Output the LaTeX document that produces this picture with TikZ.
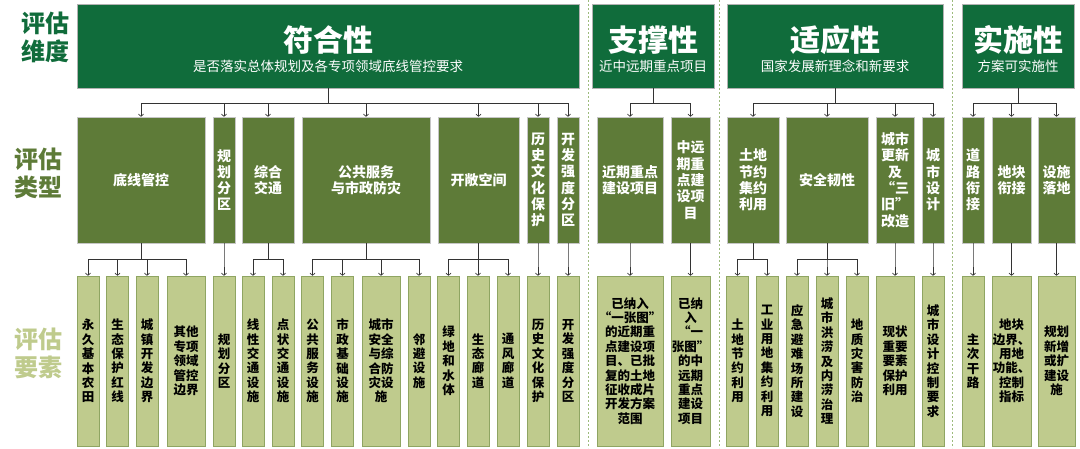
\documentclass[tikz,border=0pt]{standalone}
\usepackage{fontspec}
\setmainfont{Noto Sans CJK SC}
\usetikzlibrary{arrows.meta}
\definecolor{dimgreen}{HTML}{106C3B}
\definecolor{kindgreen}{HTML}{5E7B38}
\definecolor{itemgreen}{HTML}{BFCB8D}
\definecolor{itemedge}{HTML}{8FA562}
\definecolor{sepgreen}{HTML}{9DBB7C}
\begin{document}
\begin{tikzpicture}
      [
      x=1pt,y=-1pt,
      dimbox/.style={rectangle,draw=gray!60,fill=dimgreen,inner sep=0pt,minimum height=84pt},
      dimtitle/.style={text=white,inner sep=0pt,font=\fontsize{30}{32}\selectfont\bfseries},
      dimnote/.style={text=white,inner sep=0pt,font=\fontsize{13.5}{15}\selectfont},
      kindbox/.style={rectangle,draw=gray!45,fill=kindgreen,text=white,inner sep=0pt,minimum height=126pt,align=center,font=\fontsize{14}{16.3}\selectfont\bfseries},
      itembox/.style={rectangle,draw=itemedge,fill=itemgreen,text=black,inner sep=0pt,minimum height=170pt,align=center,font=\fontsize{12.5}{14.4}\selectfont\bfseries},
      rowlabel/.style={align=center,inner sep=0pt,font=\fontsize{24}{28}\selectfont\bfseries},
      link/.style={-{To[length=3pt,width=5.5pt]},draw=black!80,line width=0.7pt},
      sep/.style={sepgreen,line width=0.8pt,dash pattern=on 2pt off 2pt}
      ]
      \useasboundingbox (0,0) rectangle (1080,448);

      \draw [sep] (588,0) -- (588,448);
      \draw [sep] (719,0) -- (719,448);
      \draw [sep] (952,0) -- (952,448);

      \node (dimlab) at (45,37) [rowlabel,text=dimgreen] {评估\\维度};
      \node (kindlab) at (39,173) [rowlabel,text=kindgreen] {评估\\类型};
      \node (itemlab) at (39,353) [rowlabel,text=itemgreen] {评估\\要素};

      % evaluation dimensions
      \node (fh) at (328,46) [dimbox,minimum width=502pt] {};
      \node (fh-t) at (328,40) [dimtitle] {符合性};
      \node (fh-n) at (328,66) [dimnote] {是否落实总体规划及各专项领域底线管控要求};
      \node (zc) at (653,46) [dimbox,minimum width=122pt] {};
      \node (zc-t) at (653,40) [dimtitle] {支撑性};
      \node (zc-n) at (653,66) [dimnote] {近中远期重点项目};
      \node (sy) at (835,46) [dimbox,minimum width=216pt] {};
      \node (sy-t) at (835,40) [dimtitle] {适应性};
      \node (sy-n) at (835,66) [dimnote] {国家发展新理念和新要求};
      \node (ss) at (1018,46) [dimbox,minimum width=112pt] {};
      \node (ss-t) at (1018,40) [dimtitle] {实施性};
      \node (ss-n) at (1018,66) [dimnote] {方案可实施性};

      % evaluation types
      \node (dx) at (141,180) [kindbox,minimum width=128pt] {底线管控};
      \node (gh) at (224,180) [kindbox,minimum width=22pt] {规\\划\\分\\区};
      \node (zh) at (268,180) [kindbox,minimum width=52pt] {综合\\交通};
      \node (gg) at (366,180) [kindbox,minimum width=128pt] {公共服务\\与市政防灾};
      \node (kc) at (478.5,180) [kindbox,minimum width=81pt] {开敞空间};
      \node (ls) at (538,180) [kindbox,minimum width=22pt] {历\\史\\文\\化\\保\\护};
      \node (kf) at (568,180) [kindbox,minimum width=22pt] {开\\发\\强\\度\\分\\区};
      \node (jq) at (630,180) [kindbox,minimum width=66pt] {近期重点\\建设项目};
      \node (zy) at (690.5,180) [kindbox,minimum width=39pt] {中远\\期重\\点建\\设项\\目};
      \node (td) at (753,180) [kindbox,minimum width=52pt] {土地\\节约\\集约\\利用};
      \node (aq) at (827,180) [kindbox,minimum width=82pt] {安全韧性};
      \node (gx) at (895,180) [kindbox,minimum width=38pt] {城市\\更新\\及\\“三\\旧”\\改造};
      \node (sj) at (933,180) [kindbox,minimum width=22pt] {城\\市\\设\\计};
      \node (dl) at (973,180) [kindbox,minimum width=22pt] {道\\路\\衔\\接};
      \node (dk) at (1011.5,180) [kindbox,minimum width=39pt] {地块\\衔接};
      \node (ld) at (1056.5,180) [kindbox,minimum width=37pt] {设施\\落地};

      % evaluation elements
      \node (e1) at (88,361) [itembox,minimum width=22pt] {永\\久\\基\\本\\农\\田};
      \node (e2) at (117.5,361) [itembox,minimum width=22pt] {生\\态\\保\\护\\红\\线};
      \node (e3) at (147,361) [itembox,minimum width=22pt] {城\\镇\\开\\发\\边\\界};
      \node (e4) at (186,361) [itembox,minimum width=38pt] {其他\\专项\\领域\\管控\\边界};
      \node (e5) at (224,361) [itembox,minimum width=22pt] {规\\划\\分\\区};
      \node (e6) at (253,361) [itembox,minimum width=22pt] {线\\性\\交\\通\\设\\施};
      \node (e7) at (283,361) [itembox,minimum width=22pt] {点\\状\\交\\通\\设\\施};
      \node (e8) at (312.5,361) [itembox,minimum width=22pt] {公\\共\\服\\务\\设\\施};
      \node (e9) at (342.5,361) [itembox,minimum width=22pt] {市\\政\\基\\础\\设\\施};
      \node (e10) at (381,361) [itembox,minimum width=38pt] {城市\\安全\\与综\\合防\\灾设\\施};
      \node (e11) at (419,361) [itembox,minimum width=22pt] {邻\\避\\设\\施};
      \node (e12) at (448.5,361) [itembox,minimum width=22pt] {绿\\地\\和\\水\\体};
      \node (e13) at (478,361) [itembox,minimum width=22pt] {生\\态\\廊\\道};
      \node (e14) at (508,361) [itembox,minimum width=22pt] {通\\风\\廊\\道};
      \node (e15) at (538,361) [itembox,minimum width=22pt] {历\\史\\文\\化\\保\\护};
      \node (e16) at (568,361) [itembox,minimum width=22pt] {开\\发\\强\\度\\分\\区};
      \node (e17) at (630,361) [itembox,minimum width=66pt] {已纳入\\“一张图”\\的近期重\\点建设项\\目、已批\\复的土地\\征收成片\\开发方案\\范围};
      \node (e18) at (690.5,361) [itembox,minimum width=39pt] {已纳\\入\\“一\\张图”\\的中\\远期\\重点\\建设\\项目};
      \node (e19) at (737.5,361) [itembox,minimum width=22pt] {土\\地\\节\\约\\利\\用};
      \node (e20) at (767,361) [itembox,minimum width=22pt] {工\\业\\用\\地\\集\\约\\利\\用};
      \node (e21) at (797,361) [itembox,minimum width=22pt] {应\\急\\避\\难\\场\\所\\建\\设};
      \node (e22) at (827,361) [itembox,minimum width=22pt] {城\\市\\洪\\涝\\及\\内\\涝\\治\\理};
      \node (e23) at (857,361) [itembox,minimum width=22pt] {地\\质\\灾\\害\\防\\治};
      \node (e24) at (895,361) [itembox,minimum width=38pt] {现状\\重要\\要素\\保护\\利用};
      \node (e25) at (933,361) [itembox,minimum width=22pt] {城\\市\\设\\计\\控\\制\\要\\求};
      \node (e26) at (973,361) [itembox,minimum width=22pt] {主\\次\\干\\路};
      \node (e27) at (1011.5,361) [itembox,minimum width=39pt] {地块\\边界、\\用地\\功能、\\控制\\指标};
      \node (e28) at (1056.5,361) [itembox,minimum width=37pt] {规划\\新增\\或扩\\建设\\施};

      % dimension -> type
      \foreach \k in {dx,gh,zh,gg,kc,ls,kf}
        \draw [link] (fh.south) -- ++(0,15) -| (\k.north);
      \foreach \k in {jq,zy}
        \draw [link] (zc.south) -- ++(0,15) -| (\k.north);
      \foreach \k in {td,aq,gx,sj}
        \draw [link] (sy.south) -- ++(0,15) -| (\k.north);
      \foreach \k in {dl,dk,ld}
        \draw [link] (ss.south) -- ++(0,15) -| (\k.north);

      % type -> element
      \foreach \k/\e in {dx/e1,dx/e2,dx/e3,dx/e4,gh/e5,zh/e6,zh/e7,gg/e8,gg/e9,gg/e10,gg/e11,
                         kc/e12,kc/e13,kc/e14,ls/e15,kf/e16,jq/e17,zy/e18,td/e19,td/e20,
                         aq/e21,aq/e22,aq/e23,gx/e24,sj/e25,dl/e26,dk/e27,ld/e28}
        \draw [link] (\k.south) -- ++(0,16) -| (\e.north);
    \end{tikzpicture}
\end{document}
